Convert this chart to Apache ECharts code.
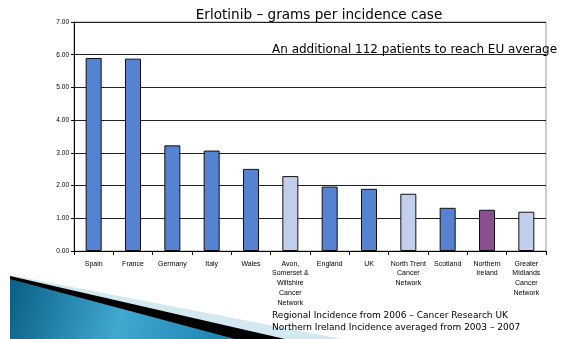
<!DOCTYPE html>
<html>
<head>
<meta charset="utf-8">
<script src="https://cdn.jsdelivr.net/npm/echarts@6/dist/echarts.min.js"></script>
<style>
html,body{margin:0;padding:0;background:#fff;}
#c{width:568px;height:339px;}
</style>
</head>
<body>
<div id="c"></div>
<script>
const categories = ["Spain","France","Germany","Italy","Wales","Avon,\nSomerset &\nWiltshire\nCancer\nNetwork","England","UK","North Trent\nCancer\nNetwork","Scotland","Northern\nIreland","Greater\nMidlands\nCancer\nNetwork"];
const gramsPerCase = [5.90, 5.88, 3.23, 3.07, 2.51, 2.29, 1.97, 1.90, 1.75, 1.32, 1.26, 1.20];
const regionType = ["country","country","country","country","country","network","country","country","network","country","ni","network"];
const yTicks = [0,1,2,3,4,5,6,7];
const titleText = "Erlotinib \u2013 grams per incidence case";
const noteText = "An additional 112 patients to reach EU average";
const footerLines = ["Regional Incidence from 2006 \u2013 Cancer Research UK","Northern Ireland Incidence averaged from 2003 \u2013 2007"];

const typeColor = {country:"#5682D2", network:"#C1CFEC", ni:"#8A4F90"};
const font = "DejaVu Sans, Verdana, sans-serif";
const narrow = "Liberation Sans Narrow, Arial Narrow, Liberation Sans, sans-serif";

const chart = echarts.init(document.getElementById('c'), null, {renderer:'canvas'});
chart.setOption({
  animation:false,
  backgroundColor:'#fff',
  title:{text:titleText, left:314, top:3, textAlign:'center',
    textStyle:{fontFamily:font, fontSize:13.6, fontWeight:'normal', color:'#000'}},
  grid:{left:74, right:22, top:22, bottom:88, show:true, borderColor:'#999', borderWidth:1},
  xAxis:{type:'category', data:categories,
    axisLine:{lineStyle:{color:'#000', width:1}},
    axisTick:{show:true, length:4, lineStyle:{color:'#000'}},
    axisLabel:{interval:0, margin:8, fontFamily:narrow, fontSize:7, color:'#000', lineHeight:9.7}},
  yAxis:{type:'value', min:0, max:7, interval:1,
    axisLine:{show:true, lineStyle:{color:'#000', width:1}},
    axisTick:{show:true, length:3, lineStyle:{color:'#000'}},
    splitLine:{show:true, lineStyle:{color:'#222', width:1}},
    axisLabel:{formatter:v=>v.toFixed(2), margin:5, fontFamily:narrow, fontSize:6.5, color:'#000'}},
  series:[{type:'bar', barWidth:16,
    data:gramsPerCase.map((v,i)=>({value:v, itemStyle:{color:typeColor[regionType[i]]}})),
    itemStyle:{borderColor:'#111', borderWidth:1}}],
  graphic:[
    {type:'text', left:272, top:44, style:{text:noteText, font:'12px '+font, fill:'#000'}},
    {type:'text', left:272, top:310, style:{text:footerLines.join('\n'), font:'9px '+font, fill:'#000', lineHeight:11.5}},
    {type:'polygon', shape:{points:[[10,275],[342,339],[10,339]]}, style:{fill:'#D3E8F1'}, z:-1},
    {type:'polygon', shape:{points:[[10,276],[285,339],[10,339]]}, style:{fill:'#000'}, z:-1},
    {type:'polygon', shape:{points:[[10,279],[235,339],[10,339]]},
      style:{fill:new echarts.graphic.LinearGradient(0,0,1,1,[{offset:0,color:'#0B5E86'},{offset:0.5,color:'#3FA9D0'},{offset:1,color:'#1C7FAF'}])}, z:-1}
  ]
});
</script>
</body>
</html>
